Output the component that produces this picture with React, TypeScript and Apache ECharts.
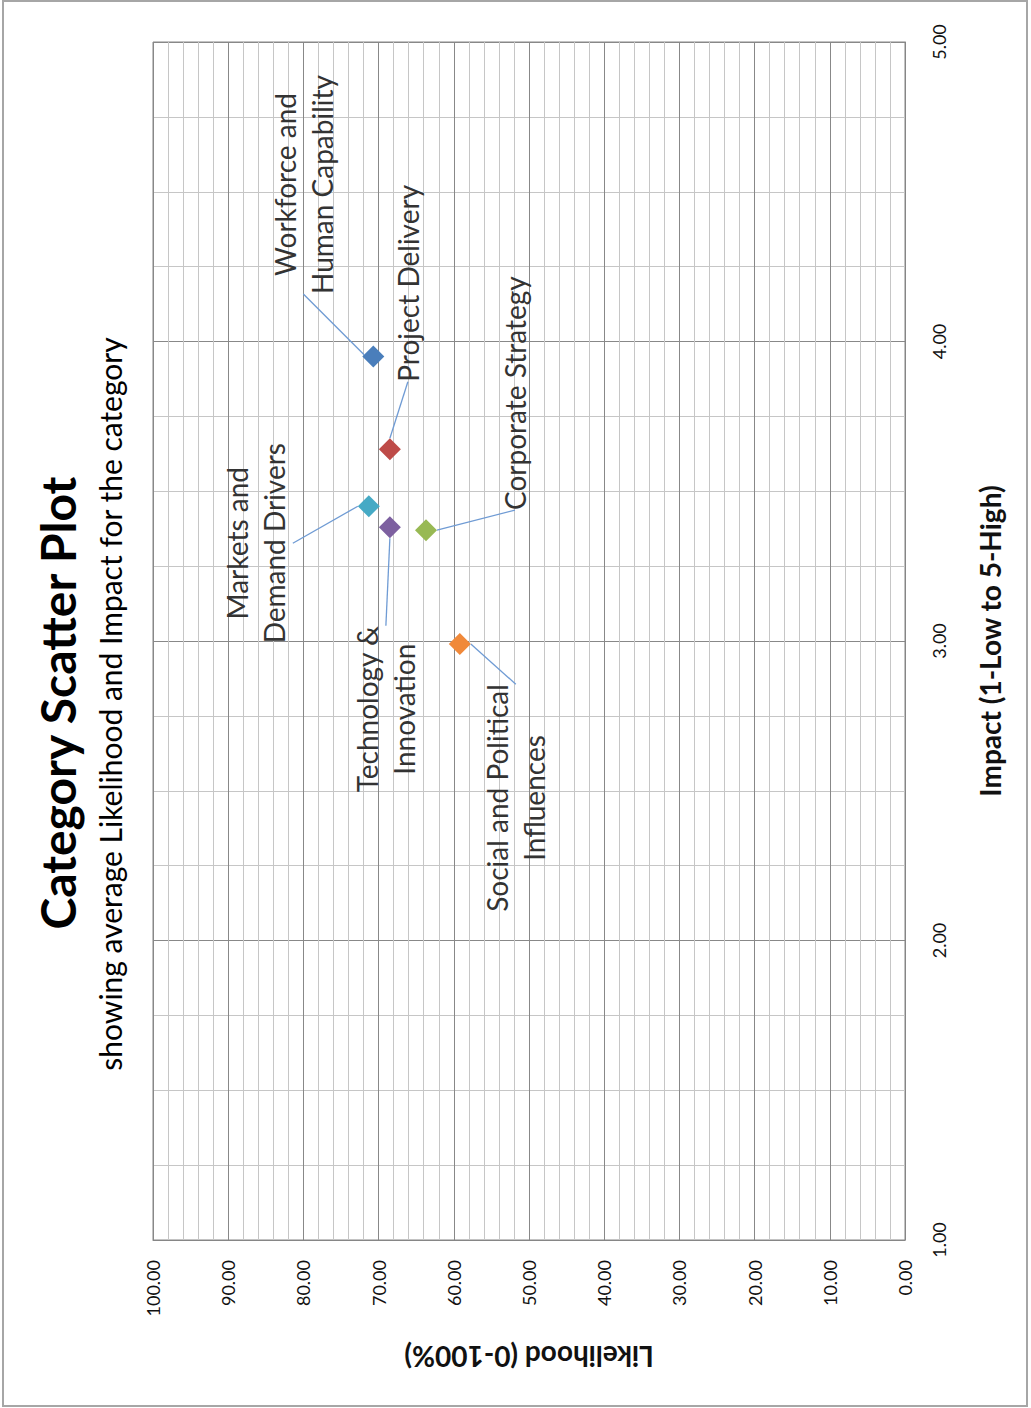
import React, { useEffect, useRef } from "react";
import * as echarts from "echarts";

const categories = [
  "Workforce and Human Capability",
  "Project Delivery",
  "Markets and Demand Drivers",
  "Technology & Innovation",
  "Corporate Strategy",
  "Social and Political Influences",
];
const labelTexts = [
  "Workforce and\nHuman Capability",
  "Project Delivery",
  "Markets and\nDemand Drivers",
  "Technology &\nInnovation",
  "Corporate Strategy",
  "Social and Political\nInfluences",
];
const impact = [3.95, 3.64, 3.45, 3.38, 3.37, 2.99];
const likelihood = [70.7, 68.5, 71.3, 68.5, 63.7, 59.2];
const colors = ["#4a7ebb", "#be4b48", "#46aac5", "#7d60a0", "#98b954", "#f0893a"];

// wanted label-centre offsets on screen (layout only), in px relative to the marker
const labelOffsets = [
  [-70, -172],
  [18, -166],
  [-113, 37],
  [-4, 182],
  [89, -137],
  [56, 154],
];

const FONT = "Lato, 'Open Sans', sans-serif";

export default function App() {
  const ref = useRef<HTMLDivElement>(null);
  useEffect(() => {
    document.body.style.margin = "0";
    const chart = echarts.init(ref.current!, null, { renderer: "svg" });
    const series = categories.map((name, i) => ({
      type: "scatter",
      name,
      symbol: "diamond",
      symbolSize: 22,
      itemStyle: { color: colors[i], opacity: 1 },
      data: [[likelihood[i], impact[i]]],
      label: {
        show: true,
        position: "inside",
        rotate: 90,
        formatter: () => labelTexts[i],
        fontFamily: FONT,
        fontSize: 28,
        lineHeight: 37,
        color: "#333",
        align: "center",
        verticalAlign: "middle",
      },
      // offsets are applied in the label's rotated frame
      labelLayout: { dx: -labelOffsets[i][1], dy: labelOffsets[i][0] },
      labelLine: { show: true, lineStyle: { color: "#6f9bd4", width: 1.3 } },
      z: 5,
    }));
    chart.setOption({
      animation: false,
      backgroundColor: "#ffffff",
      grid: { left: 153, right: 126, top: 42, bottom: 168, show: true, borderColor: "#868686", borderWidth: 1 },
      xAxis: {
        type: "value",
        min: 0,
        max: 100,
        interval: 10,
        inverse: true,
        position: "bottom",
        name: "Likelihood (0-100%)",
        nameLocation: "middle",
        nameRotate: 180,
        nameGap: 103,
        nameTextStyle: { fontFamily: FONT, fontWeight: "bold", fontSize: 28, color: "#111" },
        axisLine: { show: true, lineStyle: { color: "#868686" } },
        axisTick: { show: false },
        axisLabel: {
          rotate: 90,
          margin: 20,
          formatter: (v: number) => v.toFixed(2),
          fontFamily: FONT,
          fontSize: 18,
          color: "#111",
        },
        splitLine: { show: true, lineStyle: { color: "#888888", width: 1 } },
        minorTick: { show: false, splitNumber: 5 },
        minorSplitLine: { show: true, lineStyle: { color: "#c6c6c6", width: 1 } },
      },
      yAxis: {
        type: "value",
        min: 1,
        max: 5,
        interval: 1,
        position: "right",
        name: "Impact (1-Low to 5-High)",
        nameLocation: "middle",
        nameRotate: 90,
        nameGap: 71,
        nameTextStyle: { fontFamily: FONT, fontWeight: "bold", fontSize: 28, color: "#111" },
        axisLine: { show: true, lineStyle: { color: "#868686" } },
        axisTick: { show: false },
        axisLabel: {
          rotate: 90,
          margin: 25,
          formatter: (v: number) => v.toFixed(2),
          fontFamily: FONT,
          fontSize: 18,
          color: "#111",
        },
        splitLine: { show: true, lineStyle: { color: "#888888", width: 1 } },
        minorTick: { show: false, splitNumber: 4 },
        minorSplitLine: { show: true, lineStyle: { color: "#c6c6c6", width: 1 } },
      },
      graphic: [
        {
          type: "rect",
          shape: { x: 3, y: 1, width: 1024, height: 1405 },
          style: { fill: "none", stroke: "#a6a6a6", lineWidth: 2 },
          silent: true,
        },
        {
          type: "text",
          x: 57,
          y: 703,
          rotation: Math.PI / 2,
          style: {
            text: "Category Scatter Plot",
            fontFamily: FONT,
            fontWeight: "bold",
            fontSize: 48,
            fill: "#000",
            textAlign: "center",
            textVerticalAlign: "middle",
          },
        },
        {
          type: "text",
          x: 110,
          y: 704,
          rotation: Math.PI / 2,
          style: {
            text: "showing average Likelihood and Impact for the category",
            fontFamily: FONT,
            fontSize: 30,
            fill: "#000",
            textAlign: "center",
            textVerticalAlign: "middle",
          },
        },
      ],
      series,
    });
    return () => chart.dispose();
  }, []);
  return <div ref={ref} style={{ width: 1031, height: 1408 }} />;
}
